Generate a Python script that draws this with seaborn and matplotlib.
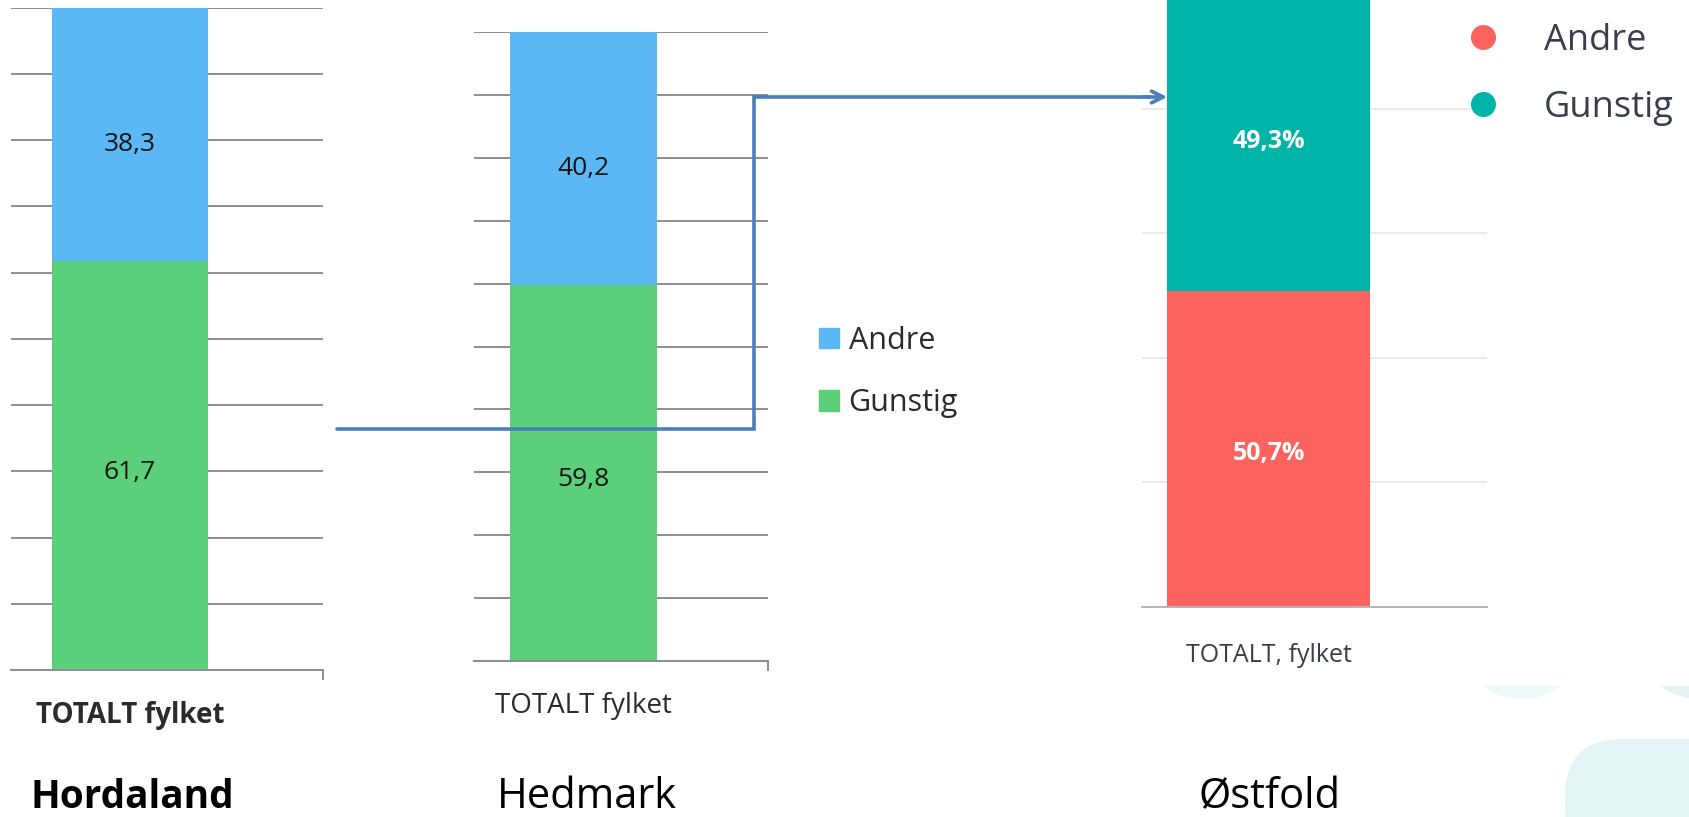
import numpy as np
import matplotlib
matplotlib.use("Agg")
import matplotlib.pyplot as plt
import seaborn as sns
from matplotlib.patches import Patch, Circle, Rectangle, FancyBboxPatch
from matplotlib.lines import Line2D

# --- data ---
regions = ["Hordaland", "Hedmark", "Østfold"]
series = ["Andre", "Gunstig"]
category = ["TOTALT fylket"]
category_ostfold = ["TOTALT, fylket"]

hordaland_gunstig = [61.7]
hordaland_andre = [38.3]
hedmark_gunstig = [59.8]
hedmark_andre = [40.2]
ostfold_andre = [50.7]
ostfold_gunstig = [49.3]

hordaland_labels = ["61,7", "38,3"]
hedmark_labels = ["59,8", "40,2"]
ostfold_labels = ["50,7%", "49,3%"]

# --- style ---
sns.set_theme(style="white")
plt.rcParams['font.family'] = ['Open Sans', 'DejaVu Sans']

BLUE = '#5BB8F5'
GREEN = '#5CCF7A'
TEAL = '#00B5A8'
RED = '#FC625E'
ARROW = '#4A7EBB'

W, H = 1690, 817
fig = plt.figure(figsize=(16.9, 8.17), dpi=100)


def px_axes(x0, y0, x1, y1, z=2):
    ax = fig.add_axes([x0 / W, 1 - y1 / H, (x1 - x0) / W, (y1 - y0) / H])
    ax.set_zorder(z)
    ax.patch.set_alpha(0)
    return ax


# slide background shapes
bg = fig.add_axes([0, 0, 1, 1])
bg.set_zorder(0)
bg.set_xlim(0, W); bg.set_ylim(H, 0); bg.axis('off')
bg.add_patch(Circle((1522, 633), 66, color='#EEF9F9', lw=0))
bg.add_patch(Circle((1700, 633), 66, color='#E4F4F4', lw=0))
bg.add_patch(Rectangle((1040, 0), 660, 686, color='white', lw=0))
bg.add_patch(FancyBboxPatch((1565, 739), 220, 130, boxstyle='round,pad=0,rounding_size=58',
                            color='#E5F4F4', lw=0))


def stacked(ax, cat, bottom, top, c_bottom, c_top, width):
    total = [b + t for b, t in zip(bottom, top)]
    sns.barplot(x=cat, y=total, color=c_top, saturation=1, width=width, linewidth=0, ax=ax)
    sns.barplot(x=cat, y=bottom, color=c_bottom, saturation=1, width=width, linewidth=0, ax=ax)
    return total


def excel_panel(box, xlim, bottom, top, labels, lab_weight, num_size):
    ax = px_axes(*box)
    stacked(ax, category, bottom, top, GREEN, BLUE, 0.8)
    ax.set_ylim(0, 100)
    ax.set_xlim(*xlim)
    ax.set_yticks(np.arange(0, 101, 10))
    ax.yaxis.grid(True, color='#8E8E8E', lw=1.4)
    ax.set_axisbelow(True)
    ax.tick_params(axis='y', length=0, labelleft=False)
    for s in ['top', 'left', 'right']:
        ax.spines[s].set_visible(False)
    ax.spines['bottom'].set_color('#8E8E8E')
    ax.spines['bottom'].set_linewidth(1.4)
    ax.set_xticks([xlim[1]], minor=True)
    ax.tick_params(axis='x', which='minor', bottom=True, length=7, width=1.4, color='#8E8E8E', direction='out')
    ax.tick_params(axis='x', which='major', length=0, pad=22, labelsize=20, labelcolor='#2B2B2B')
    for t in ax.get_xticklabels():
        t.set_fontweight(lab_weight)
    ax.set_xlabel(''); ax.set_ylabel('')
    for i, (b, t) in enumerate(zip(bottom, top)):
        ax.annotate(labels[0], (i, b / 2), xytext=(0, -5), textcoords='offset points',
                    ha='center', va='center', fontsize=num_size, color='#151515')
        ax.annotate(labels[1], (i, b + t / 2), xytext=(0, -7), textcoords='offset points',
                    ha='center', va='center', fontsize=num_size, color='#151515')
    return ax


# Hordaland
ax1 = excel_panel((11, 7.5, 323, 670), (-0.609, 0.988), hordaland_gunstig, hordaland_andre,
                  hordaland_labels, 'bold', 19)

# Hedmark
ax2 = excel_panel((474, 32, 768, 661), (-0.595, 1.005), hedmark_gunstig, hedmark_andre,
                  hedmark_labels, 'normal', 19)
ax2.legend(handles=[Patch(color=BLUE, label=series[0]), Patch(color=GREEN, label=series[1])],
           loc='center left', bbox_to_anchor=(792 / W, 1 - 372 / H), bbox_transform=fig.transFigure,
           frameon=False, fontsize=22, handlelength=0.65, handleheight=0.65, handletextpad=0.3,
           labelspacing=1.05, labelcolor='#2B2B2B')

# Østfold
ax3 = px_axes(1142, -16, 1487, 607)
stacked(ax3, category_ostfold, ostfold_andre, ostfold_gunstig, RED, TEAL, 0.8)
ax3.set_ylim(0, 100)
ax3.set_xlim(-0.498, 0.86)
ax3.set_yticks(np.arange(0, 101, 20))
ax3.yaxis.grid(True, color='#E6E6E6', lw=1.2)
ax3.set_axisbelow(True)
ax3.tick_params(axis='y', length=0, labelleft=False)
for s in ['top', 'left', 'right']:
    ax3.spines[s].set_visible(False)
ax3.spines['bottom'].set_color('#B5B5B5')
ax3.spines['bottom'].set_linewidth(1.4)
ax3.tick_params(axis='x', length=0, pad=26, labelsize=18, labelcolor='#3A3D4D')
ax3.set_xlabel(''); ax3.set_ylabel('')
for i, (b, t) in enumerate(zip(ostfold_andre, ostfold_gunstig)):
    ax3.annotate(ostfold_labels[0], (i, b / 2), xytext=(0, -3), textcoords='offset points',
                 ha='center', va='center', fontsize=18, color='white', fontweight='bold')
    ax3.annotate(ostfold_labels[1], (i, b + t / 2), xytext=(0, -3), textcoords='offset points',
                 ha='center', va='center', fontsize=18, color='white', fontweight='bold')
ax3.legend(handles=[Line2D([], [], ls='', marker='o', ms=17, color=RED, label=series[0]),
                    Line2D([], [], ls='', marker='o', ms=17, color=TEAL, label=series[1])],
           loc='upper left', bbox_to_anchor=(1432 / W, 1 + 10 / H), bbox_transform=fig.transFigure,
           frameon=False, fontsize=26, handlelength=1.0, handletextpad=1.2,
           labelspacing=0.875, labelcolor='#3A3D4D')

# region names
fig.text(30 / W, 1 - 797 / H, regions[0], fontsize=28, fontweight='bold', ha='left', va='center', color='black')
fig.text(587 / W, 1 - 797 / H, regions[1], fontsize=30, ha='center', va='center', color='black')
fig.text(1270 / W, 1 - 797 / H, regions[2], fontsize=30, ha='center', va='center', color='black')

# connecting arrow drawn on top
top = fig.add_axes([0, 0, 1, 1])
top.set_zorder(10)
top.patch.set_alpha(0)
top.set_xlim(0, W); top.set_ylim(H, 0); top.axis('off')
top.plot([337, 754, 754, 1150], [429, 429, 97, 97], color=ARROW, lw=2.6, solid_joinstyle='miter')
top.annotate('', xy=(1170, 97), xytext=(1140, 97),
             arrowprops=dict(arrowstyle='->,head_length=0.7,head_width=0.35', color=ARROW, lw=2.6))

fig.savefig('out.png', dpi=100)
